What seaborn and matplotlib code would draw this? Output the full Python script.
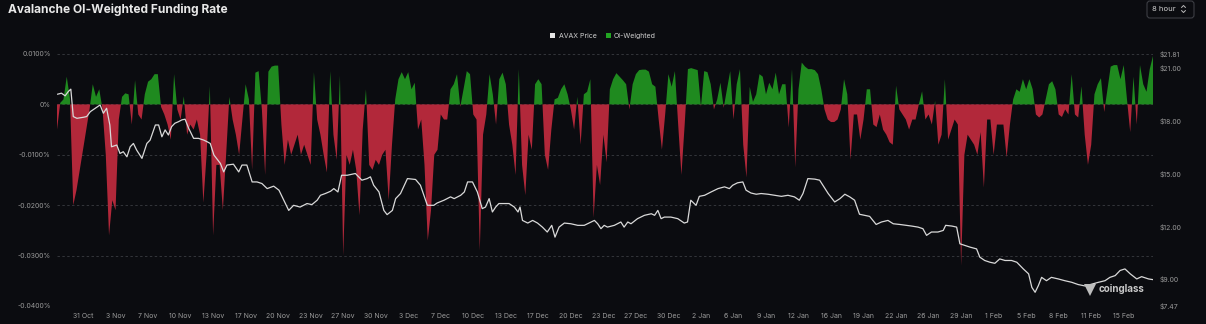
import numpy as np
import pandas as pd
import matplotlib
matplotlib.use("Agg")
import matplotlib.pyplot as plt
import matplotlib.transforms as mtransforms
from matplotlib.patches import Patch, FancyBboxPatch
from matplotlib.lines import Line2D
import seaborn as sns

# ---------------- data ----------------
# OI-weighted funding rate (%), one value per 8-hour interval, starting 28 Oct 16:00
funding = [
    -0.005, 0.0003, 0.001, 0.0055, 0.001, -0.020, -0.017, -0.013, -0.009, -0.005,
    -0.001, 0.004, 0.0015, 0.003, -0.001, -0.010, -0.026, -0.019, -0.021, -0.003,
    0.0015, 0.0022, 0.002, -0.004, 0.0048, -0.002, -0.003, 0.002, 0.0045, 0.005,
    0.006, 0.006, -0.0005, -0.002, -0.004, -0.007, 0.006, -0.001, -0.003, 0.0016,
    -0.006, -0.004, -0.005, -0.003, -0.006, -0.0195, -0.010, 0.0036, -0.026, -0.012,
    -0.012, -0.021, -0.010, 0.0015, -0.003, -0.006, -0.010, -0.003, 0.004, 0.001,
    -0.013, 0.0063, 0.0066, -0.001, -0.014, 0.0065, 0.0075, 0.0077, 0.0077, -0.004,
    -0.012, -0.007, -0.010, -0.008, -0.006, -0.010, -0.008, -0.010, -0.012, 0.0064,
    -0.003, -0.006, -0.010, -0.0135, 0.0066, -0.006, -0.011, 0.0057, -0.030, -0.010,
    -0.012, -0.009, -0.013, -0.022, -0.005, 0.003, -0.012, -0.013, -0.011, -0.012,
    -0.010, -0.009, -0.019, -0.008, 0.001, 0.005, 0.0064, 0.005, 0.0064, 0.003,
    0.0043, -0.005, -0.003, -0.012, -0.027, -0.021, -0.010, -0.009, -0.002, -0.003,
    -0.003, 0.003, 0.004, 0.006, -0.0005, 0.003, 0.0066, 0.006, -0.002, -0.003,
    -0.029, -0.006, -0.002, 0.006, 0.002, -0.004, 0.005, 0.0063, 0.004, -0.004,
    -0.008, -0.014, 0.007, -0.012, -0.018, -0.006, -0.009, 0.004, 0.005, 0.004,
    -0.010, -0.013, -0.005, 0.001, 0.0013, 0.003, 0.004, 0.002, -0.001, -0.005,
    0.0015, -0.008, 0.002, 0.0025, 0.005, -0.0225, -0.012, -0.016, -0.006, -0.0115,
    0.003, 0.005, 0.0062, 0.0055, 0.0048, 0.004, -0.001, 0.004, 0.006, 0.0068,
    0.0069, 0.0069, 0.0065, 0.004, 0.0035, -0.003, -0.009, -0.002, 0.006, 0.0035,
    0.0066, -0.004, -0.014, -0.004, 0.007, 0.0072, 0.007, 0.0068, -0.0005, 0.0066,
    0.0064, 0.004, -0.001, 0.001, 0.0043, -0.0007, 0.003, 0.0066, -0.003, 0.004,
    0.007, -0.008, -0.0145, 0.0035, 0.0005, 0.002, 0.006, 0.0055, 0.002, 0.0043,
    0.003, 0.0063, 0.002, 0.004, 0.004, -0.0046, 0.007, -0.0125, 0.003, 0.0083,
    0.0075, 0.007, 0.007, 0.0068, 0.006, 0.003, -0.001, -0.003, -0.0035, -0.0035,
    -0.003, -0.001, 0.005, 0.002, -0.011, -0.002, -0.002, -0.007, -0.003, 0.003,
    0.003, -0.004, -0.0045, -0.002, -0.005, -0.006, -0.0075, -0.008, 0.0037, -0.001,
    -0.002, -0.003, -0.005, -0.003, -0.003, 0.0, 0.0026, -0.003, -0.002, -0.004,
    0.0007, -0.008, -0.006, 0.005, -0.007, -0.005, -0.003, -0.004, -0.032, -0.010,
    -0.006, -0.007, -0.008, -0.010, -0.0055, -0.0165, -0.003, -0.003, -0.010, -0.004,
    -0.004, -0.004, -0.0105, -0.004, 0.001, 0.003, 0.0025, 0.005, 0.003, 0.005,
    0.003, -0.002, -0.0026, -0.002, 0.001, 0.004, 0.0046, 0.003, -0.002, -0.0025,
    -0.001, -0.002, 0.006, -0.002, -0.0026, 0.0036, -0.006, -0.012, -0.008, 0.002,
    0.004, 0.0052, -0.0015, 0.003, 0.0075, 0.0078, 0.0078, 0.005, 0.0078, 0.001,
    -0.0055, 0.0055, -0.004, 0.0078, 0.004, 0.0025, 0.007, 0.0096,
]

# AVAX price (USD); time in hours since 28 Oct 16:00
price_hours = [
    1, 11, 20, 28, 34, 40, 49, 65, 73, 82, 94, 106, 114, 122, 130, 134, 147, 155, 163, 172,
    180, 188, 196, 209, 221, 229, 242, 250, 258, 266, 274, 282, 290, 299, 307, 315, 324, 336,
    348, 361, 369, 377, 386, 402, 410, 418, 434, 447, 455, 467, 480, 492, 504, 517, 533, 546,
    558, 570, 582, 598, 615, 627, 640, 648, 660, 673, 681, 691, 700, 714, 734, 750, 763, 771,
    779, 792, 804, 812, 825, 833, 845, 862, 882, 894, 911, 927, 935, 952, 968, 977, 993, 1002,
    1010, 1022, 1034, 1046, 1054, 1063, 1071, 1079, 1087, 1100, 1112, 1125, 1134, 1139, 1145,
    1158, 1170, 1182, 1194, 1206, 1217, 1225, 1235, 1248, 1264, 1281, 1297, 1314, 1322, 1330,
    1338, 1346, 1354, 1371, 1387, 1395, 1404, 1412, 1428, 1445, 1462, 1470, 1478, 1486, 1494,
    1510, 1527, 1543, 1551, 1559, 1572, 1580, 1593, 1609, 1626, 1642, 1654, 1662, 1674, 1687,
    1695, 1707, 1720, 1732, 1749, 1765, 1782, 1798, 1814, 1826, 1835, 1847, 1864, 1876, 1897,
    1913, 1926, 1938, 1950, 1962, 1974, 1987, 1999, 2015, 2028, 2044, 2057, 2073, 2090, 2102,
    2118, 2130, 2139, 2151, 2167, 2180, 2186, 2201, 2213, 2221, 2234, 2246, 2262, 2270, 2282,
    2295, 2307, 2319, 2332, 2348, 2361, 2369, 2377, 2390, 2398, 2406, 2414, 2422, 2434, 2446,
    2463, 2479, 2496, 2512, 2529, 2546, 2562, 2578, 2590, 2603, 2615, 2627, 2640, 2656, 2668,
    2685, 2696,
]
price_values = [
    19.52, 19.58, 19.43, 19.68, 19.81, 18.25, 18.15, 18.21, 18.25, 18.53, 18.72, 18.91, 18.44,
    18.72, 17.77, 16.53, 16.63, 16.15, 16.25, 15.96, 16.53, 16.72, 16.34, 15.87, 16.72, 16.91,
    17.77, 17.77, 17.10, 17.49, 17.20, 17.68, 17.87, 17.96, 18.06, 18.10, 17.58, 17.01, 17.01,
    16.91, 16.82, 16.72, 16.06, 15.58, 15.10, 15.49, 15.54, 15.10, 15.49, 15.49, 14.53, 14.53,
    14.44, 14.15, 14.29, 14.06, 13.49, 12.91, 13.20, 13.10, 13.30, 13.24, 13.49, 13.77, 13.87,
    14.00, 14.15, 13.96, 14.91, 14.91, 15.01, 14.63, 14.72, 14.82, 14.34, 13.96, 12.91, 12.67,
    12.91, 13.58, 13.87, 14.72, 14.67, 14.34, 13.20, 13.20, 13.33, 13.49, 13.68, 13.58, 13.77,
    13.96, 14.53, 14.53, 13.96, 13.01, 13.10, 13.58, 12.82, 13.10, 13.30, 13.30, 13.30, 13.10,
    12.82, 13.10, 12.34, 12.19, 12.34, 12.19, 11.96, 11.68, 12.06, 11.39, 11.96, 12.19, 12.15,
    12.06, 12.06, 12.25, 12.34, 12.15, 11.87, 12.06, 11.96, 12.06, 12.25, 11.96, 12.25, 12.15,
    12.44, 12.63, 12.72, 12.63, 12.91, 12.44, 12.53, 12.53, 12.44, 12.19, 12.25, 13.49, 13.20,
    13.71, 13.77, 13.96, 14.15, 14.25, 14.15, 14.34, 14.48, 14.53, 14.06, 13.90, 13.83, 13.87,
    13.83, 13.77, 13.71, 13.77, 13.68, 13.49, 13.87, 14.72, 14.69, 14.63, 13.87, 13.39, 13.58,
    13.83, 13.68, 13.49, 12.69, 12.63, 12.57, 12.11, 12.25, 12.34, 12.15, 12.11, 12.06, 12.02,
    11.96, 11.87, 11.49, 11.68, 11.68, 11.77, 12.06, 12.02, 11.96, 11.01, 10.91, 10.82, 10.72,
    10.25, 10.06, 9.96, 9.90, 10.15, 10.06, 10.06, 9.96, 9.77, 9.58, 9.30, 8.53, 8.25, 8.63,
    9.10, 8.91, 9.10, 9.01, 8.91, 8.82, 8.69, 8.61, 8.72, 8.82, 8.91, 9.10, 9.20, 9.49, 9.58,
    9.30, 9.01, 9.14, 9.01, 8.97,
]

date_labels = ["31 Oct", "3 Nov", "7 Nov", "10 Nov", "13 Nov", "17 Nov", "20 Nov", "23 Nov",
               "27 Nov", "30 Nov", "3 Dec", "7 Dec", "10 Dec", "13 Dec", "17 Dec", "20 Dec",
               "23 Dec", "27 Dec", "30 Dec", "2 Jan", "6 Jan", "9 Jan", "12 Jan", "16 Jan",
               "19 Jan", "22 Jan", "26 Jan", "29 Jan", "1 Feb", "5 Feb", "8 Feb", "11 Feb",
               "15 Feb"]
funding_ticks = [0.01, 0.0, -0.01, -0.02, -0.03, -0.04]
funding_tick_labels = ["0.0100%", "0%", "-0.0100%", "-0.0200%", "-0.0300%", "-0.0400%"]
price_ticks = [21.81, 21.00, 18.00, 15.00, 12.00, 9.00, 7.47]
price_tick_labels = ["$21.81", "$21.00", "$18.00", "$15.00", "$12.00", "$9.00", "$7.47"]

# ---------------- style ----------------
BG = "#0b0c10"
GREEN = "#1f8a1f"
RED = "#b2283a"
LINE = "#d9d9d9"
TXT = "#9a9a9a"

sns.set_theme(style="dark")
plt.rcParams["font.family"] = ["Inter", "DejaVu Sans"]

W, H = 1206, 324
fig = plt.figure(figsize=(W / 100, H / 100), dpi=100, facecolor=BG)
ax = fig.add_axes([57 / W, 1 - 306 / H, (1153 - 57) / W, (306 - 54) / H])
ax.set_facecolor(BG)

df_f = pd.DataFrame({"hour": np.arange(len(funding)) * 8, "funding": funding})
h = df_f["hour"].to_numpy()
f = df_f["funding"].to_numpy()

for yv in funding_ticks:
    ax.axhline(yv, color="#34363b", lw=0.7, ls=(0, (2.5, 2.5)), zorder=0)

ax.fill_between(h, f, 0, where=f >= 0, interpolate=True, color=GREEN, lw=0, zorder=2)
ax.fill_between(h, f, 0, where=f <= 0, interpolate=True, color=RED, lw=0, zorder=2)
ax.set_xlim(0, (len(funding) - 1) * 8)
ax.set_ylim(-0.04, 0.01)
ax.set_yticks(funding_ticks)
ax.set_yticklabels(funding_tick_labels)
ax.set_xticks([(8 + 10 * k) * 8 for k in range(len(date_labels))])
ax.set_xticklabels(date_labels)
ax.tick_params(axis="y", length=0, pad=4.5, labelsize=5, labelcolor=TXT)
ax.tick_params(axis="x", length=0, pad=5, labelsize=5, labelcolor=TXT)
ax.grid(False)
ax.set_xlabel("")
ax.set_ylabel("")
for s in ax.spines.values():
    s.set_visible(False)

ax2 = ax.twinx()
df_p = pd.DataFrame({"hour": price_hours, "price": price_values})
sns.lineplot(data=df_p, x="hour", y="price", ax=ax2, color=LINE, lw=0.9)
ax2.set_ylim(7.47, 21.81)
ax2.set_xlim(0, (len(funding) - 1) * 8)
ax2.set_yticks(price_ticks)
ax2.set_yticklabels(price_tick_labels)
ax2.tick_params(axis="y", length=0, pad=5, labelsize=5, labelcolor=TXT)
ax2.grid(False)
ax2.set_xlabel("")
ax2.set_ylabel("")
for s in ax2.spines.values():
    s.set_visible(False)

# title
fig.text(8 / W, 1 - 9.5 / H, "Avalanche OI-Weighted Funding Rate", fontsize=8.6,
         fontweight="bold", color="#e8e8e8", va="center", ha="left")

# legend
handles = [Patch(facecolor="#e6e6e6", edgecolor="none", label="AVAX Price"),
           Patch(facecolor="#22a522", edgecolor="none", label="OI-Weighted")]
fig.legend(handles=handles, loc="center", bbox_to_anchor=(0.5, 1 - 36 / H), ncol=2,
           frameon=False, fontsize=5, labelcolor="#cfcfcf", handlelength=0.75,
           handleheight=0.75, columnspacing=1.3, handletextpad=0.45)

# interval selector button
pix = mtransforms.IdentityTransform()
fig.patches.append(FancyBboxPatch((1147, H - 18), 47, 17, boxstyle="round,pad=0,rounding_size=3",
                                  transform=pix, facecolor=BG, edgecolor="#3c3e44", lw=0.8))
fig.text(1152 / W, 1 - 9 / H, "8 hour", fontsize=5.5, color="#d0d0d0", va="center", ha="left")
for ys in ([H - 7.5, H - 5.5, H - 7.5], [H - 10.5, H - 12.5, H - 10.5]):
    fig.lines.append(Line2D([1181.5, 1183.5, 1185.5], ys, transform=pix, color="#bbbbbb", lw=0.7))

# watermark
fig.text(1099 / W, 1 - 289 / H, "coinglass", fontsize=7, fontweight="bold",
         color="#c9c9c9", va="center", ha="left")
fig.lines.append(Line2D([1090], [H - 290], transform=pix, marker="v", ms=9,
                        color="#bdbdbd", mew=0))

fig.savefig("out.png", dpi=100, facecolor=BG)
